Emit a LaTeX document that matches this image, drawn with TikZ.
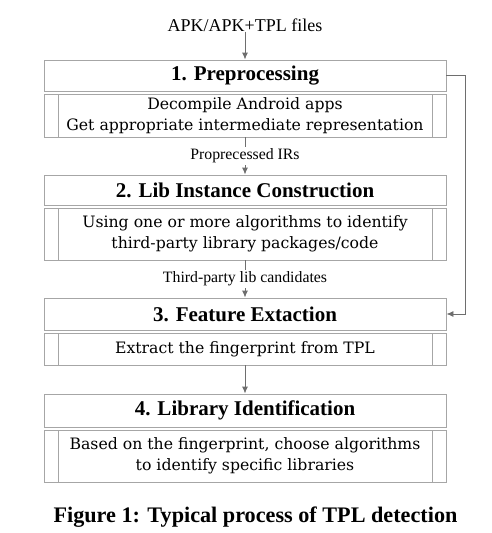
\documentclass[tikz,border=0pt]{standalone}
\usepackage{fontspec}
\setmainfont{Liberation Serif}
\newfontfamily\subfont{DejaVu Serif}
\usepackage{tikz}
\usetikzlibrary{arrows.meta, positioning}

\definecolor{boxgray}{HTML}{A6A6A6}
\definecolor{arrgray}{HTML}{6E6E6E}

\begin{document}
\begin{tikzpicture}[
    x=1pt, y=-1pt,
    every node/.style={align=center, inner sep=0pt},
    title/.style={draw=boxgray, line width=0.9pt, rectangle, minimum width=402pt,
        font=\fontsize{21}{24}\selectfont\bfseries},
    sub/.style={draw=boxgray, line width=0.9pt, rectangle, minimum width=402pt,
        font=\subfont\fontsize{15.7}{20.5}\selectfont,
        path picture={
          \draw[boxgray, line width=0.9pt]
            ([xshift=14pt]path picture bounding box.north west) -- ([xshift=14pt]path picture bounding box.south west)
            ([xshift=-14pt]path picture bounding box.north east) -- ([xshift=-14pt]path picture bounding box.south east);
        }},
    lbl/.style={fill=white, inner sep=2pt, font=\fontsize{15.8}{18}\selectfont},
    arr/.style={draw=arrgray, line width=0.9pt, -{Latex[length=7pt, width=6pt]}}
  ]
  \useasboundingbox (0,0) rectangle (492,533);

  % input
  \node[font=\fontsize{18}{21}\selectfont] (files) at (245,25) {APK/APK+TPL files};

  % four steps
  \node[title, minimum height=31pt] (t1) at (245,75.5) {1. Preprocessing};
  \node[sub, minimum height=43pt] (s1) at (245,115.5) {Decompile Android apps\\Get appropriate intermediate representation};

  \node[title, minimum height=30pt] (t2) at (245,190) {2. Lib Instance Construction};
  \node[sub, minimum height=52pt] (s2) at (245,234) {Using one or more algorithms to identify\\third-party library packages/code};

  \node[title, minimum height=32pt] (t3) at (245,314) {3. Feature Extaction};
  \node[sub, minimum height=32pt] (s3) at (245,349) {Extract the fingerprint from TPL};

  \node[title, minimum height=33pt] (t4) at (245,410.5) {4. Library Identification};
  \node[sub, minimum height=52pt] (s4) at (245,456) {Based on the fingerprint, choose algorithms\\to identify specific libraries};

  % connectors
  \draw[arr] (files) -- (t1);
  \draw[arr] (s1) -- node[lbl] {Proprecessed IRs} (t2);
  \draw[arr] (s2) -- node[lbl] {Third-party lib candidates} (t3);
  \draw[arr] (s3) -- (t4);
  \draw[arr] (t1.east) -- ++(19,0) |- (t3.east);

  % caption
  \node[font=\fontsize{22.2}{25}\selectfont\bfseries] (cap) at (255.5,517) {Figure 1: Typical process of TPL detection};
\end{tikzpicture}
\end{document}
